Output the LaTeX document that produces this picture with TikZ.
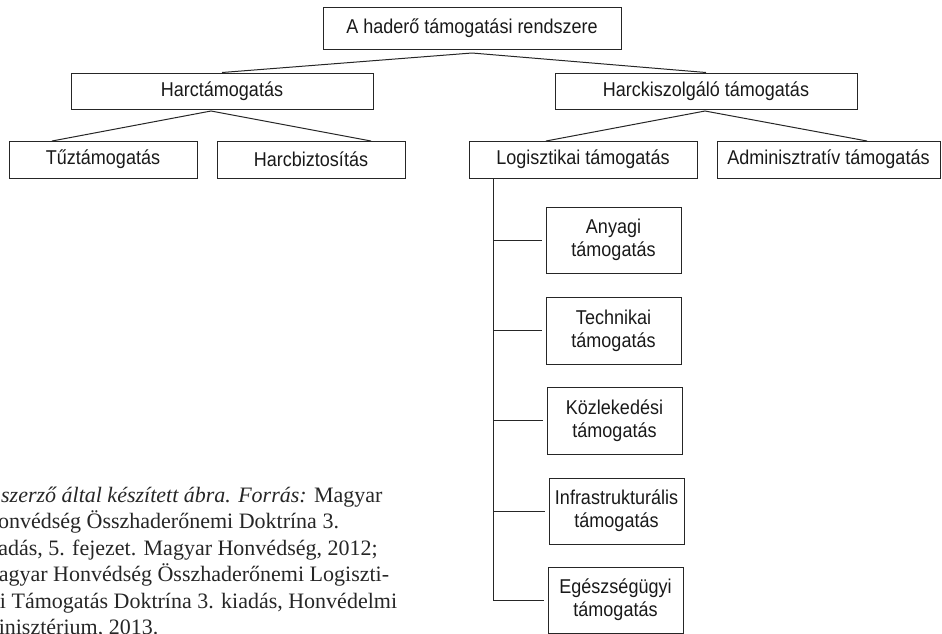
\documentclass[tikz,border=0pt]{standalone}
\usepackage{fontspec}
\setmainfont{Liberation Serif}
\setsansfont[FakeStretch=0.9]{Liberation Sans}
\usetikzlibrary{calc}
\begin{document}
\begin{tikzpicture}[x=1pt,y=-1pt,
  box/.style={draw=black!85, line width=1pt, inner sep=0pt, font=\sffamily\fontsize{20}{23}\selectfont, text=black!90, align=center},
  conn/.style={draw=black!85, line width=1pt},
  captxt/.style={anchor=base west, inner sep=0pt, font=\rmfamily\fontsize{22}{26}\selectfont, text=black!85}]
\clip (0,0) rectangle (942,633);
% boxes
\node[box, minimum width=298, minimum height=42] (top) at (472,28) {A haderő támogatási rendszere};
\node[box, minimum width=302, minimum height=36] (harc) at (222,91) {Harctámogatás};
\node[box, minimum width=302, minimum height=36] (hksz) at (706,91) {Harckiszolgáló támogatás};
\node[box, minimum width=188, minimum height=37] (tuz) at (103,159.5) {Tűztámogatás};
\node[box, minimum width=188, minimum height=37] (hbiz) at (311,159.5) {Harcbiztosítás};
\node[box, minimum width=228, minimum height=37] (log) at (583,159.5) {Logisztikai támogatás};
\node[box, minimum width=223, minimum height=37] (adm) at (828.5,159.5) {Adminisztratív támogatás};
\node[box, minimum width=135, minimum height=66] (any) at (613.5,240) {Anyagi\\támogatás};
\node[box, minimum width=135, minimum height=67] (tech) at (613.5,330.5) {Technikai\\támogatás};
\node[box, minimum width=135, minimum height=67] (kozl) at (614.5,420.5) {Közlekedési\\támogatás};
\node[box, minimum width=135, minimum height=66] (infra) at (616.5,511) {Infrastrukturális\\támogatás};
\node[box, minimum width=135, minimum height=66] (egesz) at (615.5,600) {Egészségügyi\\támogatás};
% connectors
\coordinate (a0) at (472,53);
\draw[conn] (harc.north) -- (a0) -- (hksz.north);
\coordinate (a1) at (211,111);
\coordinate (t1) at (52,141);
\coordinate (h1) at (371,141);
\draw[conn] (t1) -- (a1) -- (h1);
\coordinate (a2) at (705,111);
\coordinate (l2) at (546,141);
\coordinate (d2) at (867,141);
\draw[conn] (l2) -- (a2) -- (d2);
\coordinate (sp) at (493,178);
\coordinate (spb) at (493,601);
\draw[conn] (sp) -- (spb);
\foreach \n in {any,tech,kozl,infra,egesz}{
  \draw[conn] (sp |- \n.west) -- ($(\n.west)+(-4,0)$);
}
% caption
\node[captxt] (c1) at (-18,502) {\textit{A szerző által készített ábra. Forrás:} Magyar};
\node[captxt] (c2) at (-18,528.5) {Honvédség Összhaderőnemi Doktrína 3.};
\node[captxt] (c3) at (-19,555) {kiadás, 5. fejezet. Magyar Honvédség, 2012;};
\node[captxt] (c4) at (-21,581.5) {Magyar Honvédség Összhaderőnemi Logiszti-};
\node[captxt] (c5) at (-21,608) {kai Támogatás Doktrína 3. kiadás, Honvédelmi};
\node[captxt] (c6) at (-21,634.5) {Minisztérium, 2013.};
\end{tikzpicture}
\end{document}
